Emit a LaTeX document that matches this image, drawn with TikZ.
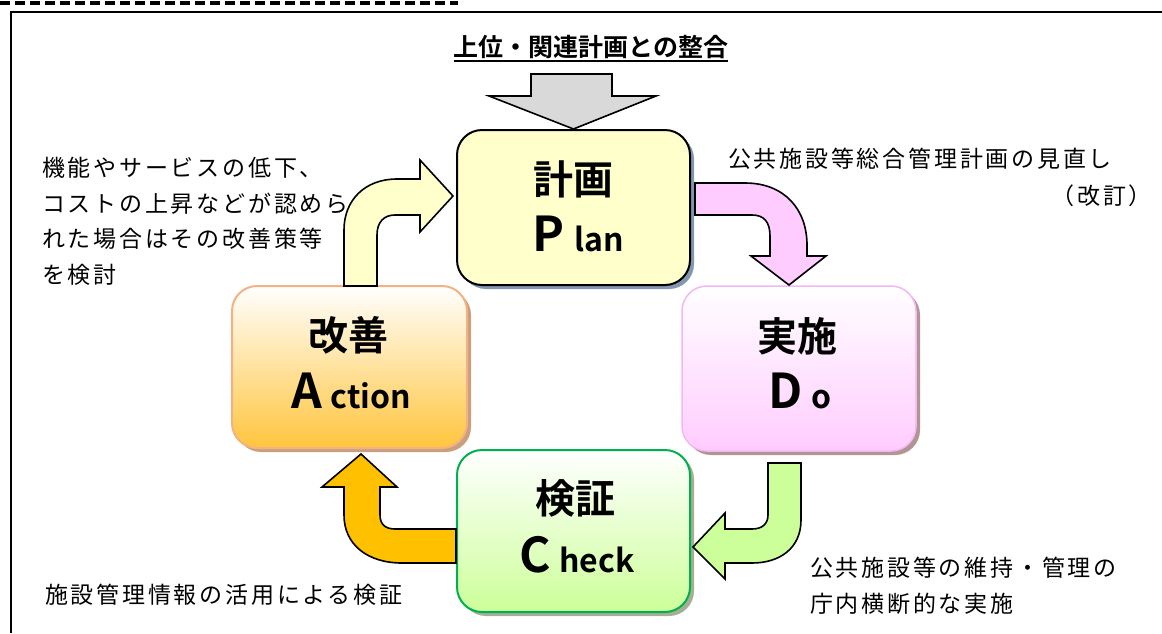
\documentclass[tikz,border=0pt]{standalone}
\usepackage{fontspec}
\usetikzlibrary{shadows}
\newfontfamily\jp[LetterSpace=12]{Noto Sans CJK JP}
\newfontfamily\jpb{Noto Sans CJK JP Bold}
\definecolor{planfill}{HTML}{FFFFCC}
\definecolor{dofill}{HTML}{FFCCFF}
\definecolor{doline}{HTML}{F2B8F2}
\definecolor{actfill}{HTML}{FFC000}
\definecolor{actbot}{HTML}{FFC53D}
\definecolor{actline}{HTML}{F4B183}
\definecolor{chkfill}{HTML}{CCFF99}
\definecolor{chkline}{HTML}{00B050}
\definecolor{grayarrow}{HTML}{D9D9D9}
\definecolor{shplan}{HTML}{8497B0}
\definecolor{shdo}{HTML}{B29494}
\definecolor{shact}{HTML}{C9A07E}
\definecolor{shchk}{HTML}{A8AE94}
\tikzset{
  pdcabox/.style={rounded corners=25pt, inner sep=0pt, line width=2pt},
  kanji/.style={font=\jpb\fontsize{40}{40}\selectfont, anchor=base, inner sep=0pt},
  latin/.style={anchor=base, inner sep=0pt},
  note/.style={font=\jp\fontsize{23}{35.5}\selectfont, inner sep=0pt, align=left},
  blockarrow/.style={draw=black, line width=1.6pt, line join=miter}
}
\newcommand{\BigL}[1]{{\jpb\fontsize{48}{48}\selectfont #1}}
\newcommand{\SmlL}[1]{{\jpb\fontsize{32}{32}\selectfont #1}}
\begin{document}
\begin{tikzpicture}[x=1pt,y=-1pt]
\useasboundingbox (0,0) rectangle (1162,633);
\fill[white] (0,0) rectangle (1162,633);
% frame
\draw[line width=3.5pt, dash pattern=on 10pt off 5pt] (0,3) -- (458,3);
\draw[line width=2.5pt] (11,633) -- (11,12) -- (1162,12);

% title
\node[font=\jpb\fontsize{25}{25}\selectfont, anchor=base, inner sep=0pt] (title) at (591,56) {上位・関連計画との整合};
\draw[line width=1.5pt] (454,61) -- (728,61);

% boxes
\node[pdcabox, draw=black, fill=planfill, minimum width=233pt, minimum height=155pt,
      drop shadow={shadow xshift=4pt, shadow yshift=-4pt, fill=shplan, opacity=1}] (plan) at (573.5,207.5) {};
\node[pdcabox, draw=doline, line width=1.5pt, top color=white, bottom color=dofill, minimum width=234pt, minimum height=165pt,
      drop shadow={shadow xshift=4pt, shadow yshift=-4pt, fill=shdo, opacity=1}] (do) at (799,368.5) {};
\node[pdcabox, draw=actline, top color=white, bottom color=actbot, minimum width=235pt, minimum height=162pt,
      drop shadow={shadow xshift=4pt, shadow yshift=-4pt, fill=shact, opacity=1}] (act) at (349.5,367) {};
\node[pdcabox, draw=chkline, top color=white, bottom color=chkfill, minimum width=233pt, minimum height=162pt,
      drop shadow={shadow xshift=4pt, shadow yshift=-4pt, fill=shchk, opacity=1}] (chk) at (573.5,531) {};

% box texts
\node[kanji] (planK) at (573,194) {計画};
\node[latin] (planL) at (578,251) {\BigL{P}\hspace{10pt}\SmlL{lan}};
\node[kanji] (doK) at (797,351) {実施};
\node[latin] (doL) at (800,408) {\BigL{D}\hspace{8pt}\SmlL{o}};
\node[kanji] (actK) at (348,350) {改善};
\node[latin] (actL) at (351,408) {\BigL{A}\hspace{9pt}\SmlL{ction}};
\node[kanji] (chkK) at (575,513) {検証};
\node[latin] (chkL) at (577,572) {\BigL{C}\hspace{8pt}\SmlL{heck}};

% gray arrow into plan
\draw[blockarrow, fill=grayarrow] (531,74) -- (612,74) -- (612,96) -- (656,96) -- (plan.north) -- (489,96) -- (531,96) -- cycle;

% pink arrow plan -> do
\draw[blockarrow, fill=dofill] (695,183) -- (745,183) .. controls (785,183) and (807,210) .. (807,245) -- (807,256) -- (826,256) -- (789,285) -- (751,256) -- (770,256) -- (770,236) .. controls (770,222) and (764,215) .. (752,215) -- (695,215) -- cycle;

% green arrow do -> check
\draw[blockarrow, fill=chkfill] (768,463) -- (801,463) -- (801,520) .. controls (801,548) and (780,563) .. (752,563) -- (725,563) -- (725,579) -- (693,547) -- (725,513) -- (725,529) -- (752,529) .. controls (762,529) and (768,524) .. (768,515) -- cycle;

% orange arrow check -> action
\draw[blockarrow, fill=actfill] (456,529) -- (456,563) -- (402,563) .. controls (368,563) and (344,545) .. (344,515) -- (344,487) -- (322,487) -- (361,454) -- (397,487) -- (380,487) -- (380,515) .. controls (380,524) and (385,529) .. (395,529) -- cycle;

% yellow arrow action -> plan
\draw[blockarrow, fill=planfill] (344,286) -- (344,230) .. controls (344,200) and (365,179) .. (397,179) -- (420,179) -- (420,160) -- (453,196) -- (420,232) -- (420,215) -- (395,215) .. controls (384,215) and (377,222) .. (377,235) -- (377,286) -- cycle;

% notes
\node[note, anchor=base west] (n1) at (42,283) {機能やサービスの低下、\\コストの上昇などが認めら\\れた場合はその改善策等\\を検討};
\node[note, anchor=base west] (n2) at (728,167) {公共施設等総合管理計画の見直し};
\node[note, anchor=base east] (n3) at (1152,204) {（改訂）};
\node[note, anchor=base west] (n4) at (810,612) {公共施設等の維持・管理の\\庁内横断的な実施};
\node[note, anchor=base west] (n5) at (45,603) {施設管理情報の活用による検証};
\end{tikzpicture}
\end{document}
